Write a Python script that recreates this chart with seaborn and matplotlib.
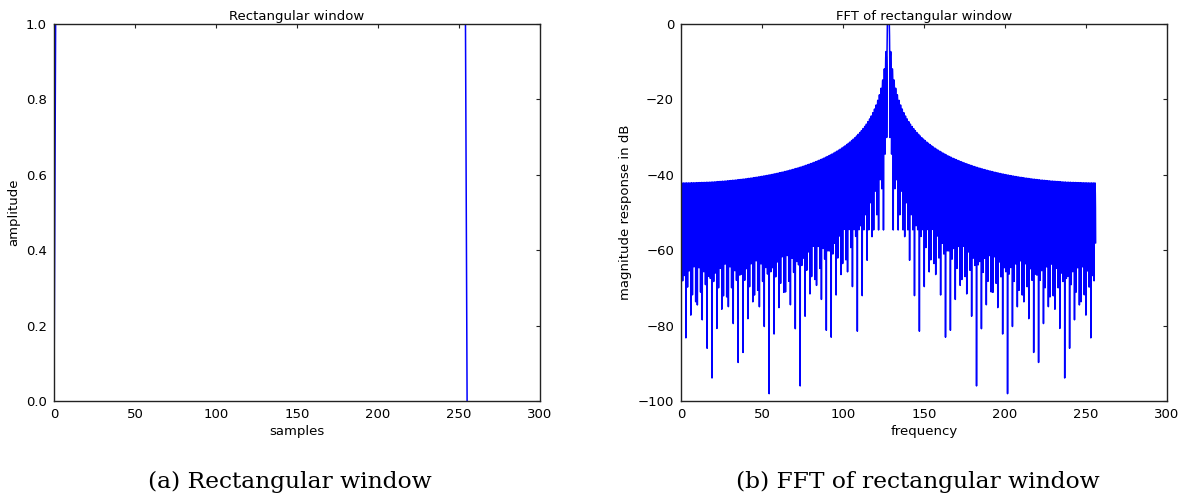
import numpy as np
import pandas as pd
import matplotlib
matplotlib.use("Agg")
import matplotlib.pyplot as plt
import seaborn as sns

# Rectangular window: 256 samples, zero at the first and last sample
window = [0.0] + [1.0] * 254 + [0.0]

# Zero-padded FFT length used for the spectrum
fft_size = 5000

x_ticks_left = [0, 50, 100, 150, 200, 250, 300]
y_ticks_left = [0.0, 0.2, 0.4, 0.6, 0.8, 1.0]
x_ticks_right = [0, 50, 100, 150, 200, 250, 300]
y_ticks_right = [-100, -80, -60, -40, -20, 0]

sns.set_theme(style="white")
plt.rcParams["font.family"] = ["DejaVu Sans"]
plt.rcParams["text.color"] = "black"
plt.rcParams["axes.labelcolor"] = "black"

# Spectrum of the window, normalised by half the window length, in dB
spectrum = np.fft.fftshift(np.fft.fft(np.asarray(window), fft_size)) / (len(window) / 2.0)
with np.errstate(divide="ignore"):
    response = 20.0 * np.log10(np.abs(spectrum))
response = np.maximum(response, -400.0)
freq = np.arange(fft_size) * len(window) / fft_size

win_df = pd.DataFrame({"samples": np.arange(len(window)), "amplitude": window})
fft_df = pd.DataFrame({"frequency": freq, "response": response})

fig = plt.figure(figsize=(11.84, 4.97), dpi=100)
W, H = 1184.0, 497.0
ax1 = fig.add_axes([54 / W, (H - 401) / H, 486 / W, 377 / H])
ax2 = fig.add_axes([681 / W, (H - 401) / H, 486 / W, 377 / H])

sns.lineplot(data=win_df, x="samples", y="amplitude", ax=ax1, color="#0000ff",
             linewidth=1.1, estimator=None, sort=False)
sns.lineplot(data=fft_df, x="frequency", y="response", ax=ax2, color="#0000ff",
             linewidth=1.1, estimator=None, sort=False)

ax1.set_xlim(0, 300)
ax1.set_ylim(0.0, 1.0)
ax1.set_xticks(x_ticks_left)
ax1.set_yticks(y_ticks_left)
ax1.set_yticklabels([f"{v:.1f}" for v in y_ticks_left])
ax1.set_title("Rectangular window", fontsize=9.5, pad=3)
ax1.set_xlabel("samples", fontsize=9.5, labelpad=3)
ax1.set_ylabel("amplitude", fontsize=9.5, labelpad=4)

ax2.set_xlim(0, 300)
ax2.set_ylim(-100, 0)
ax2.set_xticks(x_ticks_right)
ax2.set_yticks(y_ticks_right)
ax2.set_title("FFT of rectangular window", fontsize=9.5, pad=3)
ax2.set_xlabel("frequency", fontsize=9.5, labelpad=3)
ax2.set_ylabel("magnitude response in dB", fontsize=9.5, labelpad=4)

for ax in (ax1, ax2):
    ax.tick_params(direction="in", top=True, right=True, length=3, width=0.8,
                   labelsize=9.5, pad=5, colors="#222222", labelcolor="black")
    for sp in ax.spines.values():
        sp.set_color("#222222")
        sp.set_linewidth(1.0)
        sp.set_visible(True)
    ax.grid(False)

fig.text(290 / W, 1 - 488 / H, "(a) Rectangular window", ha="center", va="baseline",
         fontsize=16.8, family=["DejaVu Serif"], color="black")
fig.text(918 / W, 1 - 488 / H, "(b) FFT of rectangular window", ha="center", va="baseline",
         fontsize=16.8, family=["DejaVu Serif"], color="black")

fig.savefig("out.png", dpi=100, facecolor="white")
